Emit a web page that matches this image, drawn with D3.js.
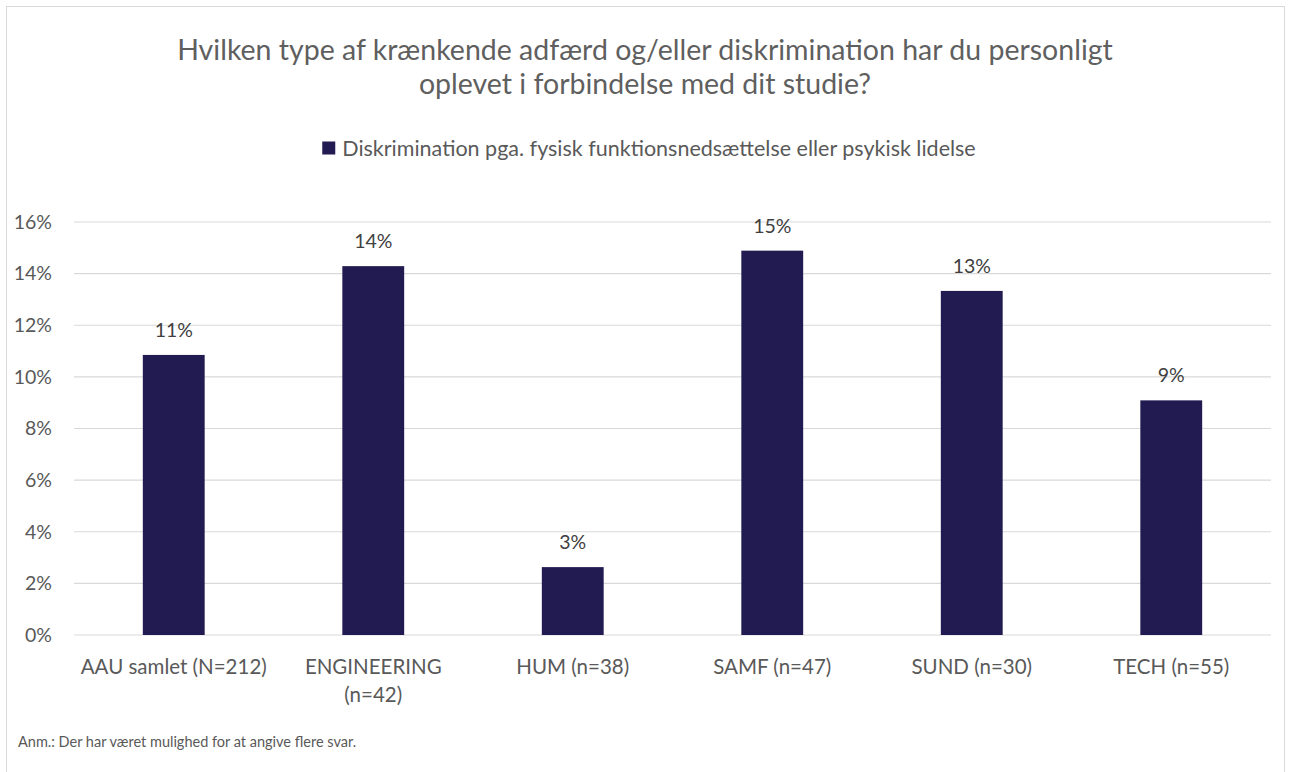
<!DOCTYPE html>
<html>
<head>
<meta charset="utf-8">
<script src="https://cdn.jsdelivr.net/npm/d3@7"></script>
<style>
  body { margin: 0; background: #fff; }
  text { font-family: Lato, "Open Sans", sans-serif; }
</style>
</head>
<body>
<div class="barChart"></div>
<script>
// chart data
const categories = ["AAU samlet (N=212)", "ENGINEERING (n=42)", "HUM (n=38)", "SAMF (n=47)", "SUND (n=30)", "TECH (n=55)"];
const categoryLines = [["AAU samlet (N=212)"], ["ENGINEERING", "(n=42)"], ["HUM (n=38)"], ["SAMF (n=47)"], ["SUND (n=30)"], ["TECH (n=55)"]];
const values = [0.1085, 0.1429, 0.0263, 0.1489, 0.1333, 0.0909];
const yTicks = [0, 0.02, 0.04, 0.06, 0.08, 0.10, 0.12, 0.14, 0.16];
const seriesName = "Diskrimination pga. fysisk funktionsnedsættelse eller psykisk lidelse";
const titleLines = ["Hvilken type af krænkende adfærd og/eller diskrimination har du personligt", "oplevet i forbindelse med dit studie?"];
const note = "Anm.: Der har været mulighed for at angive flere svar.";

const width = 1290, height = 772;
const margin = {top: 222, right: 19, bottom: 137, left: 74};
const barColor = "#221b51";
const textColor = "#595959";

const svg = d3.select(".barChart")
    .append("svg")
    .attr("width", width)
    .attr("height", height);

// outer chart border
svg.append("rect")
    .attr("x", 6.5).attr("y", 6.5)
    .attr("width", 1278).attr("height", 800)
    .attr("fill", "none")
    .attr("stroke", "#d9d9d9")
    .attr("stroke-width", 1);

// title
svg.append("g").selectAll("text")
    .data(titleLines)
    .join("text")
    .attr("x", width / 2)
    .attr("y", (d, i) => 60 + i * 34)
    .attr("text-anchor", "middle")
    .attr("fill", "#5f5f5f")
    .attr("font-size", "28.5px")
    .text(d => d);

// legend
const legend = svg.append("g").attr("transform", `translate(${width / 2 + 4}, 148)`);
const legendText = legend.append("text")
    .attr("dy", "0.36em")
    .attr("fill", textColor)
    .attr("font-size", "21.5px")
    .text(seriesName);
const lw = legendText.node().getComputedTextLength();
const legendW = 13 + 7 + lw;
legendText.attr("x", -legendW / 2 + 20);
legend.append("rect")
    .attr("x", -legendW / 2).attr("y", -6.5)
    .attr("width", 13).attr("height", 13)
    .attr("fill", barColor);

// scales
const x = d3.scaleBand()
    .domain(categories)
    .range([margin.left, width - margin.right])
    .padding(0);

const y = d3.scaleLinear()
    .domain([0, 0.16])
    .range([height - margin.bottom, margin.top]);

// gridlines
svg.append("g")
    .selectAll("line")
    .data(yTicks)
    .join("line")
    .attr("x1", margin.left)
    .attr("x2", width - margin.right)
    .attr("y1", d => y(d))
    .attr("y2", d => y(d))
    .attr("stroke", "#d9d9d9")
    .attr("stroke-width", 1.2);

// y axis labels
const yAxis = svg.append("g")
    .attr("transform", `translate(${margin.left}, 0)`)
    .call(d3.axisLeft(y).tickValues(yTicks).tickFormat(d3.format(".0%")).tickSize(0).tickPadding(22));
yAxis.select(".domain").remove();
yAxis.selectAll("text")
    .attr("fill", textColor)
    .attr("font-size", "19.5px")
    .style("font-family", "Lato, 'Open Sans', sans-serif");

// bars
const barW = x.bandwidth() * 0.31;
svg.append("g")
    .selectAll("rect")
    .data(values)
    .join("rect")
    .attr("x", (d, i) => x(categories[i]) + x.bandwidth() / 2 - barW / 2)
    .attr("y", d => y(d))
    .attr("width", barW)
    .attr("height", d => y(0) - y(d))
    .attr("fill", barColor);

// data labels
svg.append("g")
    .selectAll("text")
    .data(values)
    .join("text")
    .attr("x", (d, i) => x(categories[i]) + x.bandwidth() / 2)
    .attr("y", d => y(d) - 18)
    .attr("text-anchor", "middle")
    .attr("fill", "#404040")
    .attr("font-size", "19.5px")
    .text(d => d3.format(".0%")(d));

// category labels
const xLabels = svg.append("g")
    .selectAll("text")
    .data(categoryLines)
    .join("text")
    .attr("x", (d, i) => x(categories[i]) + x.bandwidth() / 2)
    .attr("y", 674)
    .attr("text-anchor", "middle")
    .attr("fill", textColor)
    .attr("font-size", "20.5px");
xLabels.selectAll("tspan")
    .data(d => d)
    .join("tspan")
    .attr("x", function() { return d3.select(this.parentNode).attr("x"); })
    .attr("dy", (d, i) => i === 0 ? 0 : 28)
    .text(d => d);

// note
svg.append("text")
    .attr("x", 18)
    .attr("y", 747)
    .attr("fill", textColor)
    .attr("font-size", "14.5px")
    .text(note);
</script>
</body>
</html>
